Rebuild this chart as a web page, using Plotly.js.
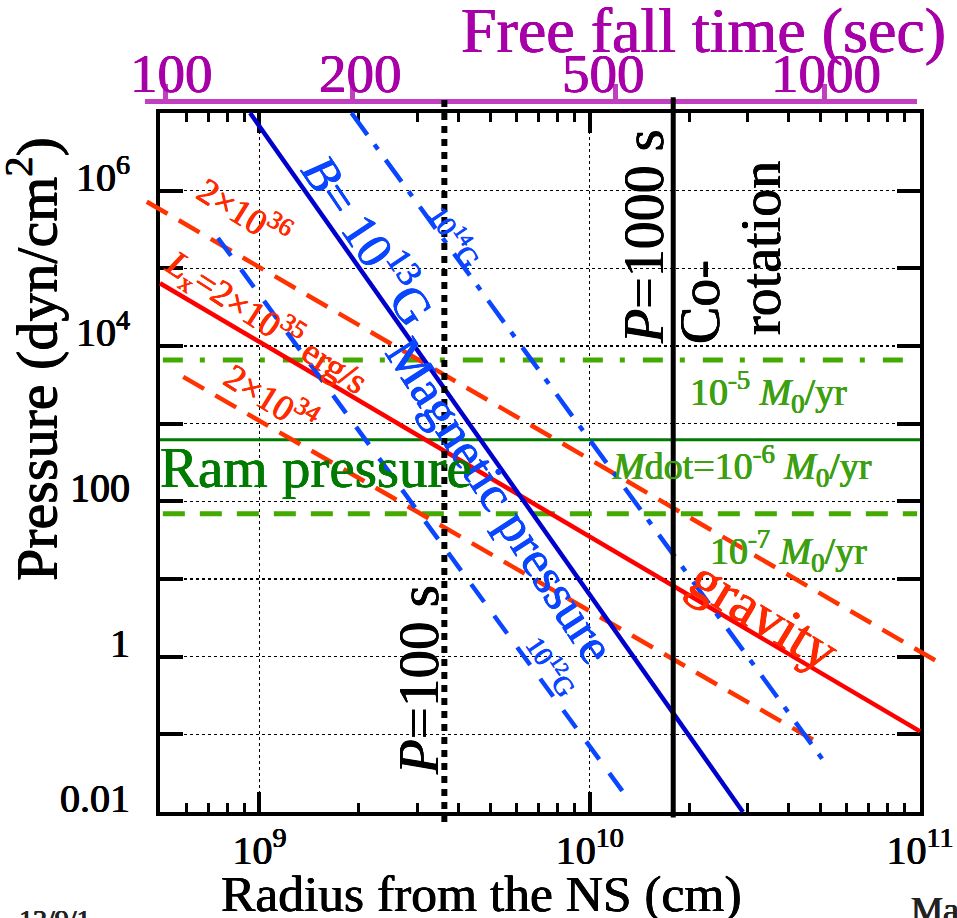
<!DOCTYPE html>
<html><head><meta charset="utf-8">
<script src="https://cdn.plot.ly/plotly-3.0.1.min.js"></script>
<style>html,body{margin:0;padding:0;background:#fff}#plot{width:957px;height:918px}</style>
</head><body><div id="plot"></div>
<script>
// ---------------- data ----------------
// magnetic pressure lines (B = 1e13 G solid, 1e14 G dash-dot, 1e12 G dashed)
const magB13R = [9.37e8, 2.91e10];  const magB13P = [1e7, 1e-2];
const magB14R = [1.9e9, 5.18e10];   const magB14P = [1e7, 0.042];
const magB12R = [7.49e8, 1.306e10]; const magB12P = [2.46e5, 0.0148];
// gravity lines (Lx = 2e35 solid, 2e36 dashed, 2e34 dashed)
const grav35R = [5e8, 1e11];        const grav35P = [6.43e4, 0.109];
const grav36R = [4.56e8, 1.149e11]; const grav36P = [7.21e5, 0.827];
const grav34R = [5.88e8, 4.74e10];  const grav34P = [4.0e3, 0.0853];
// ram pressure (Mdot = 1e-5, 1e-6, 1e-7 Msun/yr)
const ram5R = [5.1e8, 9.33e10]; const ram5P = [6620, 6620];
const ram6R = [5e8, 1e11];      const ram6P = [619, 619];
const ram7R = [5.1e8, 9.8e10];  const ram7P = [69, 69];
// spin-period radii (P=100 s dotted, P=1000 s / co-rotation solid)
const p100R = [3.63e9, 3.63e9];    const p100P = [1.47e7, 7.3e-3];
const p1000R = [1.79e10, 1.79e10]; const p1000P = [1.6e7, 8.5e-3];
// axis ticks
const xTickVals = [1e9, 1e10, 1e11];
const xTickText = ['10<sup>9</sup>', '10<sup>10</sup>', '10<sup>11</sup>'];
const xMinorVals = [6e8,7e8,8e8,9e8,2e9,3e9,4e9,5e9,6e9,7e9,8e9,9e9,2e10,3e10,4e10,5e10,6e10,7e10,8e10,9e10];
const yTickVals = [1e-2,1e-1,1,10,100,1e3,1e4,1e5,1e6,1e7];
const yTickText = ['0.01','','1','','100','','10<sup>4</sup>','','10<sup>6</sup>',''];
// free-fall time axis: radius at which each free-fall time is marked
const ffR = [5.18e8, 1.914e9, 1.197e10, 5.13e10];
const ffText = ['100', '200', '500', '1000'];

// ---------------- geometry ----------------
const W = 957, H = 918, M = {l:140, r:12, t:95, b:93};
const PW = W - M.l - M.r, PH = H - M.t - M.b;
const X0 = 160, X1 = 920, Y0 = 113, Y1 = 812;
const xR = [Math.log10(5e8), 11], yR = [-2, 7];
const kx = (xR[1]-xR[0])/(X1-X0), ky = (yR[1]-yR[0])/(Y1-Y0);
const px = x => (x - M.l)/PW, py = y => (H - M.b - y)/PH;
const FF0 = 145, FF1 = 917, FFY = 100.7;
const ffShift = [6, 8, -12, 2];

const FONT = 'Liberation Serif, Times New Roman, serif';
const BLUE_D = '#0000cc', BLUE = '#0a46ff', RED = '#ff0000', RED_D = '#ff3300', RED_T = '#ff2a00';
const GREEN_D = '#007a00', GREEN = '#44aa00', GREEN_T = '#3ca010', MAG = '#a800a8', MAG_L = '#c040c0';
const heavy = c => `0.45px 0 0 ${c}, -0.45px 0 0 ${c}, 0 0.3px 0 ${c}`;
const fnt = (size, color) => ({family:FONT, size, color, shadow:heavy(color)});

function line(x, y, color, width, dash){
  return {x, y, xaxis:'x3', yaxis:'y3', type:'scatter', mode:'lines',
          line:{color, width, dash: dash || 'solid'}, hoverinfo:'skip', showlegend:false};
}
const traces = [
  // invisible anchors so the frame subplot and the free-fall axis get drawn
  {x:[1e9], y:[1], xaxis:'x', yaxis:'y', type:'scatter', mode:'markers',
   marker:{opacity:0}, hoverinfo:'skip', showlegend:false},
  {x:[ffR[0]], y:[1], xaxis:'x2', yaxis:'y3', type:'scatter', mode:'markers',
   marker:{opacity:0}, hoverinfo:'skip', showlegend:false},
  line(ram6R, ram6P, GREEN_D, 3),
  line(ram5R, ram5P, GREEN, 5, '20px,17px,5px,18px'),
  line(ram7R, ram7P, GREEN, 5, '22px,15px'),
  line(grav36R, grav36P, RED_D, 4.5, '24px,13px'),
  line(grav34R, grav34P, RED_D, 4.5, '24px,13px'),
  line(grav35R, grav35P, RED, 4.5),
  line(magB14R, magB14P, BLUE, 4.5, '27px,12px,6px,13px'),
  line(magB12R, magB12P, BLUE, 4.5, '22px,17px'),
  line(magB13R, magB13P, BLUE_D, 4.5),
  line(p100R, p100P, '#000', 6, '7px,6px'),
  line(p1000R, p1000P, '#000', 5)
];

function ann(text, x, y, size, color, angle){
  return {text, x:px(x), y:py(y), xref:'paper', yref:'paper',
    xanchor:'center', yanchor:'middle', showarrow:false, textangle:angle||0,
    font:fnt(size, color)};
}
const annotations = [
  ann('<i>B</i>= 10<sup>13</sup>G', 371, 238, 50, BLUE, 56),
  ann('Magnetic pressure', 500, 500, 51, BLUE, 57),
  ann('10<sup>14</sup>G', 456, 236, 28, BLUE, 56),
  ann('10<sup>12</sup>G', 552, 665, 27, BLUE, 56),
  ann('2×10<sup>36</sup>', 245, 211, 36, RED_T, 32),
  ann('<i>L</i><sub>x</sub>=2×10<sup>35</sup> erg/s', 267, 322, 36, RED_T, 33),
  ann('2×10<sup>34</sup>', 272, 397, 36, RED_T, 32),
  ann('gravity', 765, 614, 57, RED_T, 31),
  ann('Ram pressure', 316, 468, 57, GREEN_D, 0),
  ann('10<sup>-5</sup> <i>M</i><sub>0</sub>/yr', 768, 392, 38, GREEN_T, 0),
  ann('<i>M</i>dot=10<sup>-6</sup> <i>M</i><sub>0</sub>/yr', 742, 466, 38, GREEN_T, 0),
  ann('10<sup>-7</sup> <i>M</i><sub>0</sub>/yr', 788, 551, 38, GREEN_T, 0),
  ann('<i>P</i>=100 s', 418, 680, 57, '#000', -90),
  ann('<i>P</i>=1000 s', 644, 237, 56, '#000', -90),
  ann('Co-', 700, 302, 56, '#000', -90),
  ann('rotation', 761, 248, 56, '#000', -90),
  ann('Pressure (dyn/cm<sup>2</sup>)', 33, 359, 58, '#000', -90),
  ann('Radius from the NS (cm)', 481, 893, 51.5, '#000', 0),
  ann('Free fall time (sec)', 703, 30, 64, MAG, 0),
  ann('Ma', 935, 910, 36, '#222', 0),
  ann('12/9/1', 55, 919, 28, '#222', 0)
];
ffR.forEach((r, i) => annotations.push({text: ffText[i], x: Math.log10(r), xref:'x2',
  xshift: ffShift[i], y: py(73), yref:'paper', xanchor:'center', yanchor:'middle', showarrow:false,
  font:fnt(55, MAG)}));

const layout = {
  width: W, height: H, margin: M, paper_bgcolor:'#fff', plot_bgcolor:'rgba(0,0,0,0)',
  showlegend:false, hovermode:false, font:{family:FONT, color:'#000'},
  xaxis: {type:'log', range:xR, domain:[px(X0), px(X1)], anchor:'y',
    tickmode:'array', tickvals:xTickVals, ticktext:xTickText, ticks:'inside', ticklen:20, tickwidth:4,
    tickcolor:'#000', showline:true, linecolor:'#000', linewidth:4, mirror:'ticks',
    showgrid:true, gridcolor:'#000', gridwidth:1.2, griddash:'dot', zeroline:false,
    tickfont:fnt(40, '#000'), ticklabelstandoff:0,
    minor:{tickmode:'array', tickvals:xMinorVals, ticks:'inside', ticklen:9, tickwidth:3, tickcolor:'#000', showgrid:false}},
  yaxis: {type:'log', range:yR, domain:[py(Y1), py(Y0)], anchor:'x',
    tickmode:'array', tickvals:yTickVals, ticktext:yTickText, ticks:'inside', ticklen:23, tickwidth:4,
    tickcolor:'#000', showline:true, linecolor:'#000', linewidth:4, mirror:'ticks',
    showgrid:true, gridcolor:'#000', gridwidth:1.2, griddash:'dot', zeroline:false,
    tickfont:fnt(40, '#000'), ticklabelstandoff:18, ticklabelshift:-14},
  xaxis2: {type:'log', domain:[px(FF0), px(FF1)],
    range:[xR[0] - (X0-FF0)*kx, xR[1] + (FF1-X1)*kx], anchor:'free', position:py(FFY), side:'top',
    tickmode:'array', tickvals:ffR, ticks:'outside', ticklen:15, tickwidth:5, tickcolor:MAG_L,
    showline:true, linecolor:MAG_L, linewidth:5, showticklabels:false, showgrid:false, zeroline:false},
  xaxis3: {type:'log', domain:[0,1], anchor:'y3',
    range:[xR[0] - (X0-M.l)*kx, xR[1] + (W-M.r-X1)*kx], visible:false},
  yaxis3: {type:'log', domain:[0,1], anchor:'x3',
    range:[yR[0] - (H-M.b-Y1)*ky, yR[1] + (Y0-M.t)*ky], visible:false},
  annotations
};
Plotly.newPlot('plot', traces, layout, {staticPlot:true, displayModeBar:false});
</script></body></html>
